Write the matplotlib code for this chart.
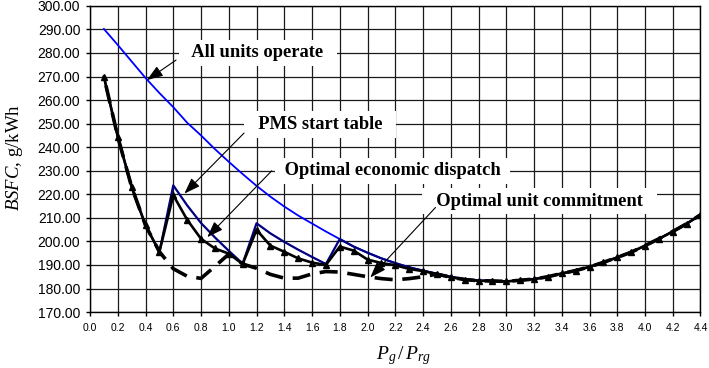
import matplotlib
matplotlib.use("Agg")
import matplotlib.pyplot as plt
import numpy as np

# load ratio Pg/Prg, 0.1 .. 4.4
load = np.round(np.arange(1, 45) * 0.1, 1)

# BSFC, g/kWh
all_units = [290.2, 283.4, 276.4, 269.4, 263.0, 257.0, 250.4, 245.0, 239.2, 233.8,
             228.6, 223.6, 219.0, 214.8, 211.0, 207.6, 204.2, 201.0, 197.8, 195.2,
             192.8, 190.8, 189.0, 187.6, 186.3, 185.0, 184.0, 183.4, 183.2, 183.0,
             183.5, 184.0, 185.0, 186.4, 187.6, 189.2, 191.1, 193.2, 195.4, 198.2,
             201.1, 204.2, 207.5, 211.3]
pms_table = [269.9, 244.4, 223.1, 206.8, 195.6, 223.8, 215.3, 207.8, 201.7, 196.0,
             190.6, 207.7, 203.4, 199.8, 196.5, 193.4, 190.4, 201.0, 197.8, 195.2,
             192.8, 190.8, 189.0, 187.6, 186.3, 185.0, 184.0, 183.4, 183.2, 183.0,
             183.5, 184.0, 185.0, 186.4, 187.6, 189.2, 191.1, 193.2, 195.4, 198.2,
             201.1, 204.2, 207.5, 211.3]
econ_dispatch = [269.9, 244.4, 223.1, 206.8, 195.6, 219.6, 209.2, 201.1, 197.0, 194.8,
                 190.4, 204.9, 198.2, 195.6, 192.8, 191.0, 190.0, 197.8, 196.1, 192.3,
                 190.8, 189.9, 188.3, 187.4, 186.1, 184.8, 183.8, 183.3, 183.2, 183.0,
                 183.5, 184.0, 185.0, 186.4, 187.6, 189.2, 191.1, 193.2, 195.4, 198.2,
                 201.1, 204.2, 207.5, 211.3]
unit_commit = [269.9, 244.4, 223.1, 206.8, 195.6, 188.4, 185.2, 184.3, 189.4, 194.6,
               190.4, 188.6, 186.0, 184.4, 184.4, 186.2, 187.2, 187.0, 186.0, 185.0,
               184.2, 183.7, 184.2, 185.0, 186.1, 184.8, 183.8, 183.3, 183.2, 183.0,
               183.5, 184.0, 185.0, 186.4, 187.6, 189.2, 191.1, 193.2, 195.4, 198.2,
               201.1, 204.2, 207.5, 211.3]

plt.rcParams['mathtext.fontset'] = 'custom'
plt.rcParams['mathtext.rm'] = 'Liberation Serif'
plt.rcParams['mathtext.it'] = 'Liberation Serif:italic'
plt.rcParams['lines.scale_dashes'] = False

fig = plt.figure(figsize=(7.09, 3.68), dpi=100)
ax = fig.add_axes([0.127, 0.152, 0.861, 0.832])

ax.plot(load, all_units, color='#0000ff', lw=1.3, zorder=3)
ax.plot(load, pms_table, color='#000080', lw=1.6, zorder=3)
ax.plot(load, unit_commit, color='black', lw=2.6, linestyle=(13.5, (13, 7)), zorder=4)
ax.plot(load, econ_dispatch, color='black', lw=1.9, marker='^', ms=5, zorder=5)

ax.set_xlim(0, 4.4)
ax.set_ylim(170, 300)
ax.set_xticks(np.round(np.arange(0, 4.41, 0.2), 1))
ax.set_yticks(np.arange(170, 301, 10))
ax.set_xticklabels(['%.1f' % v for v in ax.get_xticks()])
ax.set_yticklabels(['%.2f' % v for v in ax.get_yticks()])
ax.tick_params(axis='y', direction='out', length=3, width=1, pad=4,
               labelsize=10)
ax.tick_params(axis='x', direction='out', length=3, width=1, pad=5,
               labelsize=7.5)
for lab in ax.get_xticklabels() + ax.get_yticklabels():
    lab.set_fontfamily('Liberation Sans')
ax.grid(True, color='#1a1a1a', lw=0.9, zorder=0)
ax.set_axisbelow(True)
for s in ax.spines.values():
    s.set_color('black')
    s.set_linewidth(1)

# labels of the curves
box = dict(boxstyle='square,pad=0.25', fc='white', ec='none')
txt = dict(family='Liberation Serif', weight='bold', fontsize=13.3,
           ha='center', va='center', bbox=box, zorder=6)
arr = dict(arrowstyle='-|>,head_length=0.7,head_width=0.25', color='black',
           lw=0.8, mutation_scale=14, shrinkA=0, shrinkB=0)

ax.text(1.21, 280, '  All units operate  ', **txt)
ax.annotate('', xy=(0.41, 268.5), xytext=(0.62, 277), arrowprops=arr, zorder=7)

ax.text(1.66, 249.6, '  PMS start table  ', **txt)
ax.annotate('', xy=(0.68, 220.3), xytext=(1.11, 246), arrowprops=arr, zorder=7)

ax.text(2.18, 230, ' Optimal economic dispatch ', **txt)
ax.annotate('', xy=(0.845, 201.8), xytext=(1.31, 230), arrowprops=arr, zorder=7)

ax.text(3.24, 217, '  Optimal unit commitment  ', **txt)
ax.annotate('', xy=(2.02, 184.7), xytext=(2.49, 214.4), arrowprops=arr, zorder=7)

fig.text(15 / 709, 0.572, r'$BSFC$, g/kWh', rotation=90, ha='center', va='center',
         family='Liberation Serif', fontsize=13.5)
fig.text(404 / 709, 1 - 356 / 368, r'$P_g\,/\,P_{rg}$', ha='center', va='center',
         family='Liberation Serif', fontsize=14)

fig.savefig('out.png', dpi=100)
